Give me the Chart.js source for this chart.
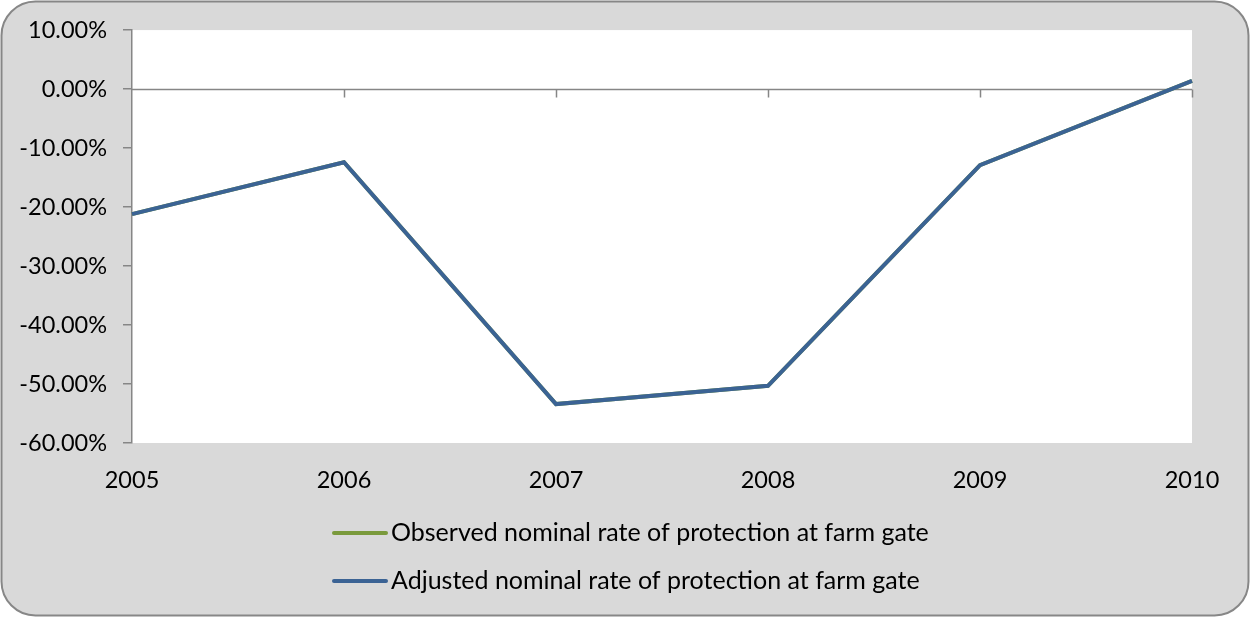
<!DOCTYPE html>
<html>
<head>
<meta charset="utf-8">
<script src="https://cdn.jsdelivr.net/npm/chart.js@4.4.1/dist/chart.umd.min.js"></script>
<style>
  html, body { margin: 0; padding: 0; background: #ffffff; }
  #wrap { width: 1250px; height: 617px; position: relative; }
</style>
</head>
<body>
<div id="wrap"><canvas id="c" width="1250" height="617"></canvas></div>
<script>
// Nominal rate of protection, 2005-2010 (percent)
const years = ['2005', '2006', '2007', '2008', '2009', '2010'];
const observedRate = [-21.2, -12.4, -53.4, -50.3, -12.9, 1.4];
const adjustedRate = [-21.2, -12.4, -53.4, -50.3, -12.9, 1.4];
const seriesNames = [
  'Observed nominal rate of protection at farm gate',
  'Adjusted nominal rate of protection at farm gate'
];
const yTicks = [10, 0, -10, -20, -30, -40, -50, -60];

const FONT = 'Lato, "Liberation Sans", sans-serif';
const AXIS_GREY = '#868686';

// Rounded grey panel behind the whole chart
const panel = {
  id: 'panel',
  beforeDraw(chart) {
    const ctx = chart.ctx;
    ctx.save();
    ctx.fillStyle = '#ffffff';
    ctx.fillRect(0, 0, chart.width, chart.height);
    ctx.beginPath();
    ctx.roundRect(1.5, 1.5, chart.width - 3, chart.height - 3, 34);
    ctx.fillStyle = '#d9d9d9';
    ctx.fill();
    ctx.lineWidth = 2;
    ctx.strokeStyle = '#878787';
    ctx.stroke();
    const a = chart.chartArea;
    ctx.fillStyle = '#ffffff';
    ctx.fillRect(a.left, a.top, a.right - a.left, a.bottom - a.top);
    ctx.restore();
  }
};

// Category axis crossing at 0% with tick marks below it
const zeroAxis = {
  id: 'zeroAxis',
  beforeDatasetsDraw(chart) {
    const ctx = chart.ctx;
    const x = chart.scales.x, y = chart.scales.y;
    const y0 = Math.round(y.getPixelForValue(0)) + 0.5;
    ctx.save();
    ctx.strokeStyle = AXIS_GREY;
    ctx.lineWidth = 1.5;
    ctx.beginPath();
    ctx.moveTo(chart.chartArea.left, y0);
    ctx.lineTo(chart.chartArea.right, y0);
    for (let i = 1; i < years.length; i++) {
      const px = Math.round(x.getPixelForValue(i)) + 0.5;
      ctx.moveTo(px, y0);
      ctx.lineTo(px, y0 + 8);
    }
    ctx.stroke();
    ctx.restore();
  }
};

// Stacked legend below the plot
const stackedLegend = {
  id: 'stackedLegend',
  afterDraw(chart) {
    const ctx = chart.ctx;
    ctx.save();
    ctx.font = '25px ' + FONT;
    ctx.textBaseline = 'middle';
    ctx.textAlign = 'left';
    const rows = [533, 581];
    chart.data.datasets.forEach((ds, i) => {
      const yy = rows[i];
      ctx.strokeStyle = ds.borderColor;
      ctx.lineWidth = 4;
      ctx.lineCap = 'round';
      ctx.beginPath();
      ctx.moveTo(334, yy);
      ctx.lineTo(386, yy);
      ctx.stroke();
      ctx.fillStyle = '#000000';
      ctx.fillText(ds.label, 391, yy);
    });
    ctx.restore();
  }
};

new Chart(document.getElementById('c'), {
  type: 'line',
  data: {
    labels: years,
    datasets: [
      {
        label: seriesNames[0],
        data: observedRate,
        borderColor: '#7a9a3c',
        borderWidth: 4,
        pointRadius: 0,
        tension: 0,
        order: 1
      },
      {
        label: seriesNames[1],
        data: adjustedRate,
        borderColor: '#3b6394',
        borderWidth: 4,
        pointRadius: 0,
        tension: 0,
        order: 0
      }
    ]
  },
  options: {
    responsive: false,
    animation: false,
    layout: { padding: { left: 0, right: 58, top: 30, bottom: 0 } },
    plugins: {
      legend: { display: false },
      tooltip: { enabled: false }
    },
    scales: {
      x: {
        type: 'category',
        offset: false,
        grid: { display: false, drawTicks: false },
        border: { display: false },
        ticks: {
          color: '#000000',
          font: { family: FONT, size: 23.5 },
          padding: 23,
          maxRotation: 0,
          autoSkip: false
        },
        afterFit(scale) { scale.height = 174; }
      },
      y: {
        min: -60,
        max: 10,
        afterBuildTicks(scale) {
          scale.ticks = yTicks.map(v => ({ value: v }));
        },
        grid: {
          display: true,
          drawOnChartArea: false,
          drawTicks: true,
          tickLength: 9,
          color: AXIS_GREY,
          lineWidth: 1.5
        },
        border: { display: true, color: AXIS_GREY, width: 1.5 },
        ticks: {
          color: '#000000',
          font: { family: FONT, size: 23.5 },
          padding: 16,
          callback: v => v.toFixed(2) + '%'
        },
        afterFit(scale) { scale.width = 132; }
      }
    }
  },
  plugins: [panel, zeroAxis, stackedLegend]
});
</script>
</body>
</html>
